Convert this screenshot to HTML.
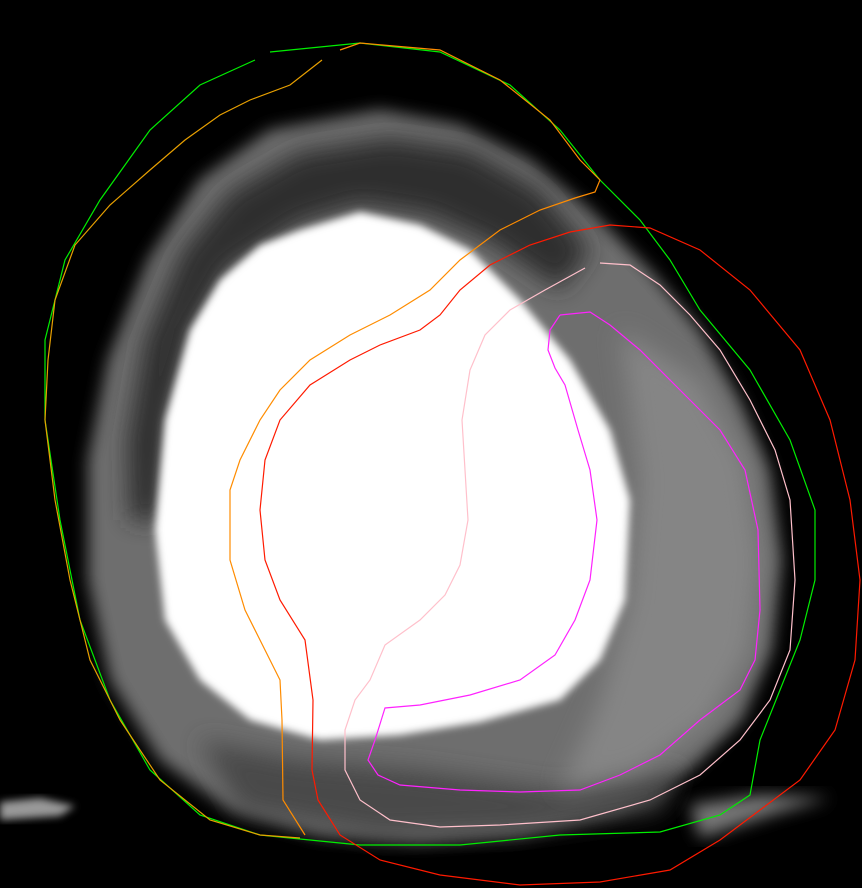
<!DOCTYPE html>
<html><head><meta charset="utf-8"><style>
html,body{margin:0;padding:0;background:#000;}
svg{display:block;}
</style></head><body>
<svg id="scan" width="862" height="888" viewBox="0 0 862 888" xmlns="http://www.w3.org/2000/svg">
<defs>
<filter id="b8" x="-20%" y="-20%" width="140%" height="140%"><feGaussianBlur stdDeviation="8"/></filter>
<filter id="b4" x="-20%" y="-20%" width="140%" height="140%"><feGaussianBlur stdDeviation="4"/></filter>
<filter id="b14" x="-30%" y="-30%" width="160%" height="160%"><feGaussianBlur stdDeviation="12"/></filter>
</defs>
<rect width="862" height="888" fill="#000"/>
<g id="tissue"></g>
<g id="contours"></g>
</svg>
<script>
const myocardiumOuter=[[380,110],[460,125],[530,160],[590,210],[650,270],[700,330],[740,400],[770,470],[782,560],[772,650],[742,720],[690,770],[620,810],[520,835],[420,842],[320,835],[230,810],[160,760],[110,680],[88,580],[88,460],[108,360],[148,260],[200,180],[270,130]];
const darkBand=[[590,250],[540,190],[470,150],[390,138],[300,152],[230,192],[182,252],[145,340],[128,440],[130,520],[160,520],[168,420],[192,330],[228,268],[300,222],[360,204],[430,215],[490,242],[560,290]];
const bottomBand=[[200,740],[300,760],[420,770],[560,790],[680,770],[660,810],[520,830],[380,835],[240,810]];
const lightRegion=[[620,330],[700,380],[745,460],[760,560],[750,650],[710,720],[640,770],[560,790],[600,700],[630,600],[640,480]];
const bloodPool=[[300,230],[360,212],[420,225],[470,250],[520,300],[570,360],[610,430],[630,500],[625,600],[600,660],[560,700],[480,722],[400,735],[320,740],[250,720],[200,680],[165,620],[155,530],[165,420],[190,330],[220,280],[260,245]];
const streakLeft=[[0,802],[40,798],[75,806],[60,816],[0,820]];
const streakRight=[[690,805],[760,795],[830,798],[780,812],[700,838]];

const greenContour=[[270,52],[360,43],[440,52],[510,85],[560,130],[600,180],[640,220],[670,260],[700,310],[750,370],[790,440],[815,510],[815,580],[800,640],[780,690],[760,740],[750,795],[720,815],[660,832],[560,835],[460,845],[360,845],[260,835],[200,815],[150,770],[110,700],[80,620],[60,520],[45,420],[45,340],[65,260],[100,200],[150,130],[200,85],[255,60]];
const orangeInner=[[340,50],[360,43],[440,50],[500,80],[550,120],[580,160],[600,180],[595,192],[575,198],[540,210],[500,230],[460,260],[430,290],[390,315],[350,335],[310,360],[280,390],[260,420],[240,460],[230,490],[230,560],[245,610],[265,650],[280,680],[282,720],[283,800],[305,835]];
const orangeOuter=[[322,60],[290,85],[250,100],[220,115],[185,140],[150,170],[110,205],[75,245],[55,300],[48,360],[45,420],[55,500],[70,580],[90,660],[120,720],[160,780],[210,820],[260,835],[300,838]];
const redContour=[[312,770],[313,700],[305,640],[280,600],[265,560],[260,510],[265,460],[280,420],[310,385],[350,360],[380,345],[420,330],[440,315],[460,290],[490,265],[530,245],[570,232],[610,225],[650,228],[700,250],[750,290],[800,350],[830,420],[850,500],[860,580],[855,660],[835,730],[800,780],[760,810],[720,840],[670,870],[600,882],[520,885],[440,875],[380,860],[340,835],[318,800],[312,770]];
const pinkContour=[[600,263],[630,265],[660,285],[690,315],[720,350],[750,400],[775,450],[790,500],[795,580],[790,650],[770,700],[740,740],[700,775],[650,800],[580,820],[500,825],[440,827],[390,820],[360,800],[345,770],[345,730],[355,700],[370,680],[385,645],[420,620],[445,595],[460,565],[468,520],[465,470],[462,420],[470,370],[485,335],[510,310],[545,290],[585,268]];
const magentaContour=[[560,315],[590,312],[610,325],[640,350],[680,390],[720,430],[745,470],[758,530],[760,610],[755,660],[740,690],[700,720],[660,755],[620,775],[580,790],[520,792],[460,790],[400,785],[378,775],[368,760],[375,740],[385,708],[420,705],[470,695],[520,680],[555,655],[575,620],[590,580],[597,520],[590,470],[578,430],[565,385],[555,368],[548,350],[550,330],[560,315]];

const NS='http://www.w3.org/2000/svg';
function pts(a){return a.map(p=>p[0]+','+p[1]).join(' ');}
function poly(parent,arr,fill,filter,name){
  const el=document.createElementNS(NS,'polygon');
  el.setAttribute('points',pts(arr));
  el.setAttribute('fill',fill);
  if(filter)el.setAttribute('filter','url(#'+filter+')');
  
  
  parent.appendChild(el);
}
function line(parent,arr,color,name){
  const el=document.createElementNS(NS,'polyline');
  el.setAttribute('points',pts(arr));
  el.setAttribute('fill','none');
  el.setAttribute('stroke',color);
  el.setAttribute('stroke-width','1.2');
  
  
  parent.appendChild(el);
}
const t=document.getElementById('tissue');
poly(t,myocardiumOuter,'#6e6e6e','b8','myocardium');
poly(t,darkBand,'#2e2e2e','b14','dark-band');
poly(t,bottomBand,'#4a4a4a','b14','bottom-band');
poly(t,lightRegion,'#858585','b14','septal-wall');
poly(t,bloodPool,'#ffffff','b4','blood-pool');
poly(t,streakLeft,'#999999','b4','artifact-left');
poly(t,streakRight,'#777777','b8','artifact-right');
const c=document.getElementById('contours');
line(c,greenContour,'#00ee00','green-contour');
line(c,orangeInner,'#ff8c00','orange-contour-inner');
line(c,orangeOuter,'#e8a000','orange-contour-outer');
line(c,redContour,'#ff1a00','red-contour');
line(c,pinkContour,'#ffc0cb','pink-contour');
line(c,magentaContour,'#ff22ff','magenta-contour');
</script>
</body></html>
